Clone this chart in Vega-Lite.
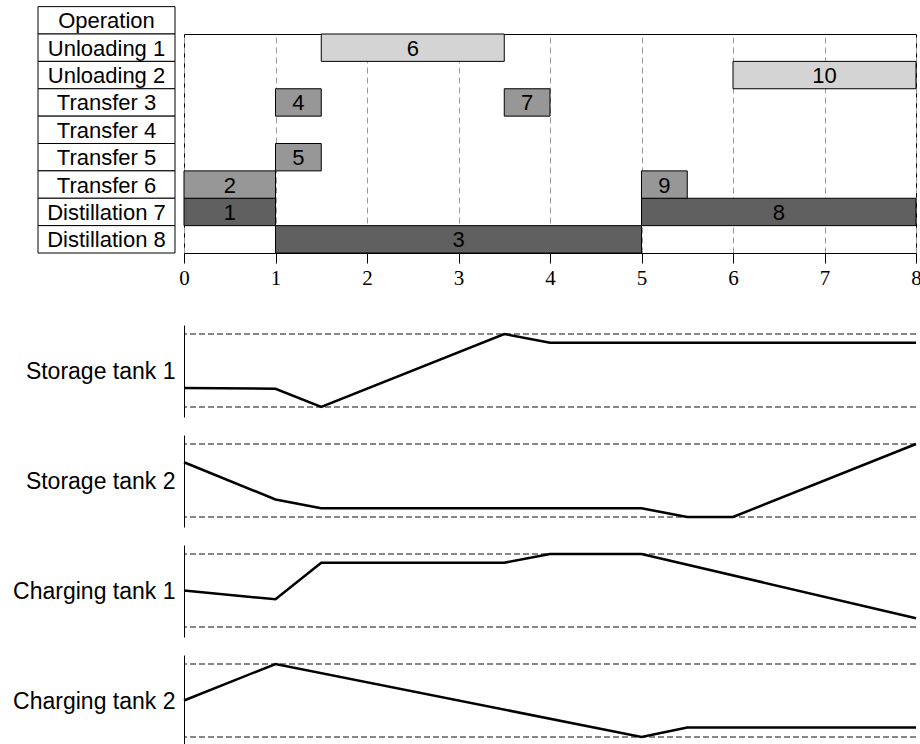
{
  "$schema": "https://vega.github.io/schema/vega-lite/v6.json",
  "padding": {"left": 12, "top": 5, "right": 0, "bottom": 0},
  "autosize": {"type": "pad"},
  "spacing": 18,
  "background": "white",
  "config": {
    "view": {"stroke": null},
    "font": "Liberation Sans",
    "text": {"font": "Liberation Sans", "color": "black"}
  },
  "datasets": {
    "ops": [
      {"op": "Operation"},
      {"op": "Unloading 1"},
      {"op": "Unloading 2"},
      {"op": "Transfer 3"},
      {"op": "Transfer 4"},
      {"op": "Transfer 5"},
      {"op": "Transfer 6"},
      {"op": "Distillation 7"},
      {"op": "Distillation 8"}
    ],
    "tasks": [
      {"id": "1", "op": "Distillation 7", "kind": "Distillation", "start": 0, "end": 1},
      {"id": "2", "op": "Transfer 6", "kind": "Transfer", "start": 0, "end": 1},
      {"id": "3", "op": "Distillation 8", "kind": "Distillation", "start": 1, "end": 5},
      {"id": "4", "op": "Transfer 3", "kind": "Transfer", "start": 1, "end": 1.5},
      {"id": "5", "op": "Transfer 5", "kind": "Transfer", "start": 1, "end": 1.5},
      {"id": "6", "op": "Unloading 1", "kind": "Unloading", "start": 1.5, "end": 3.5},
      {"id": "7", "op": "Transfer 3", "kind": "Transfer", "start": 3.5, "end": 4},
      {"id": "8", "op": "Distillation 7", "kind": "Distillation", "start": 5, "end": 8},
      {"id": "9", "op": "Transfer 6", "kind": "Transfer", "start": 5, "end": 5.5},
      {"id": "10", "op": "Unloading 2", "kind": "Unloading", "start": 6, "end": 8}
    ],
    "limits": [{"lim": 0}, {"lim": 1}],
    "levels": [
      {"tank": "Storage tank 1", "t": 0, "level": 0.26},
      {"tank": "Storage tank 1", "t": 1, "level": 0.25},
      {"tank": "Storage tank 1", "t": 1.5, "level": 0},
      {"tank": "Storage tank 1", "t": 3.5, "level": 1},
      {"tank": "Storage tank 1", "t": 4, "level": 0.88},
      {"tank": "Storage tank 1", "t": 8, "level": 0.88},
      {"tank": "Storage tank 2", "t": 0, "level": 0.75},
      {"tank": "Storage tank 2", "t": 1, "level": 0.24},
      {"tank": "Storage tank 2", "t": 1.5, "level": 0.12},
      {"tank": "Storage tank 2", "t": 5, "level": 0.12},
      {"tank": "Storage tank 2", "t": 5.5, "level": 0},
      {"tank": "Storage tank 2", "t": 6, "level": 0},
      {"tank": "Storage tank 2", "t": 8, "level": 1},
      {"tank": "Charging tank 1", "t": 0, "level": 0.5},
      {"tank": "Charging tank 1", "t": 1, "level": 0.38},
      {"tank": "Charging tank 1", "t": 1.5, "level": 0.88},
      {"tank": "Charging tank 1", "t": 3.5, "level": 0.88},
      {"tank": "Charging tank 1", "t": 4, "level": 1},
      {"tank": "Charging tank 1", "t": 5, "level": 1},
      {"tank": "Charging tank 1", "t": 8, "level": 0.12},
      {"tank": "Charging tank 2", "t": 0, "level": 0.5},
      {"tank": "Charging tank 2", "t": 1, "level": 1},
      {"tank": "Charging tank 2", "t": 5, "level": 0},
      {"tank": "Charging tank 2", "t": 5.5, "level": 0.13},
      {"tank": "Charging tank 2", "t": 8, "level": 0.13}
    ]
  },
  "vconcat": [
    {
      "width": 732,
      "height": 219,
      "view": {"stroke": "black", "strokeWidth": 1},
      "layer": [
        {
          "data": {"name": "ops"},
          "layer": [
            {
              "mark": {"type": "rect", "fill": "white", "stroke": "black", "strokeWidth": 1},
              "encoding": {
                "x": {"datum": 0, "type": "quantitative", "scale": {"domain": [0, 1], "range": [-146, -9]}, "axis": null},
                "x2": {"datum": 1},
                "y": {"field": "op", "type": "nominal", "sort": null, "scale": {"domain": ["Operation", "Unloading 1", "Unloading 2", "Transfer 3", "Transfer 4", "Transfer 5", "Transfer 6", "Distillation 7", "Distillation 8"], "range": [-27.375, 219], "paddingInner": 0, "paddingOuter": 0}, "axis": null}
              }
            },
            {
              "mark": {"type": "text", "fontSize": 22, "baseline": "middle", "align": "center", "dy": 1},
              "encoding": {
                "x": {"datum": 0.5, "type": "quantitative", "scale": {"domain": [0, 1], "range": [-146, -9]}, "axis": null},
                "y": {"field": "op", "type": "nominal", "sort": null, "scale": {"domain": ["Operation", "Unloading 1", "Unloading 2", "Transfer 3", "Transfer 4", "Transfer 5", "Transfer 6", "Distillation 7", "Distillation 8"], "range": [-27.375, 219], "paddingInner": 0, "paddingOuter": 0}, "axis": null},
                "text": {"field": "op", "type": "nominal"}
              }
            }
          ]
        },
        {
          "data": {"name": "tasks"},
          "layer": [
            {
              "mark": {"type": "bar", "stroke": "black", "strokeWidth": 1, "opacity": 1},
              "encoding": {
                "x": {"field": "start", "type": "quantitative", "scale": {"domain": [0, 8], "nice": false, "zero": false},
                  "axis": {"values": [0, 1, 2, 3, 4, 5, 6, 7, 8], "format": "d", "grid": true, "gridColor": "#9a9a9a", "gridDash": [6, 4], "gridWidth": 1,
                    "domain": true, "domainColor": "black", "domainWidth": 1, "ticks": true, "tickColor": "black", "tickSize": 10, "tickWidth": 1,
                    "labelFont": "Liberation Serif", "labelFontSize": 21, "labelColor": "black", "labelPadding": 4, "labelFlush": false, "labelOverlap": false,
                    "title": " ", "titleFontSize": 10, "titlePadding": 8}},
                "x2": {"field": "end"},
                "y": {"field": "op", "type": "nominal", "sort": null, "scale": {"domain": ["Unloading 1", "Unloading 2", "Transfer 3", "Transfer 4", "Transfer 5", "Transfer 6", "Distillation 7", "Distillation 8"], "paddingInner": 0, "paddingOuter": 0}, "axis": null},
                "color": {"field": "kind", "type": "nominal", "scale": {"domain": ["Unloading", "Transfer", "Distillation"], "range": ["#d4d4d4", "#979797", "#606060"]}, "legend": null}
              }
            },
            {
              "transform": [{"fold": ["start", "end"], "as": ["edge", "t"]}],
              "mark": {"type": "text", "fontSize": 22, "baseline": "middle", "align": "center", "dy": 1},
              "encoding": {
                "x": {"aggregate": "mean", "field": "t", "type": "quantitative", "title": " "},
                "y": {"field": "op", "type": "nominal", "sort": null},
                "text": {"field": "id", "type": "nominal"}
              }
            }
          ]
        }
      ],
      "resolve": {"scale": {"x": "independent", "y": "independent"}, "axis": {"x": "independent", "y": "independent"}}
    },
    {
      "width": 732,
      "height": 92,
      "layer": [
        {
          "data": {"name": "limits"},
          "mark": {"type": "rule", "strokeDash": [6, 3], "color": "#111111", "strokeWidth": 1.2},
          "encoding": {
            "y": {"field": "lim", "type": "quantitative", "scale": {"domain": [-0.137, 1.123], "nice": false, "zero": false},
              "axis": {"title": "Storage tank 1", "titleAngle": 0, "titleAlign": "right", "titleBaseline": "middle", "titleX": -9, "titleY": 46, "titleFontSize": 23, "titleFontWeight": "normal", "titleColor": "black", "titleFont": "Liberation Sans", "labels": false, "ticks": false, "grid": false, "domain": true, "domainColor": "black", "domainWidth": 1}}
          }
        },
        {
          "data": {"name": "levels"},
          "transform": [{"filter": "datum.tank === 'Storage tank 1'"}],
          "mark": {"type": "line", "color": "black", "strokeWidth": 2.5},
          "encoding": {
            "x": {"field": "t", "type": "quantitative", "scale": {"domain": [0, 8], "nice": false, "zero": false}, "axis": null},
            "y": {"field": "level", "type": "quantitative", "scale": {"domain": [-0.137, 1.123], "nice": false, "zero": false}, "title": "Storage tank 1"}
          }
        }
      ]
    },
    {
      "width": 732,
      "height": 92,
      "layer": [
        {
          "data": {"name": "limits"},
          "mark": {"type": "rule", "strokeDash": [6, 3], "color": "#111111", "strokeWidth": 1.2},
          "encoding": {
            "y": {"field": "lim", "type": "quantitative", "scale": {"domain": [-0.137, 1.123], "nice": false, "zero": false},
              "axis": {"title": "Storage tank 2", "titleAngle": 0, "titleAlign": "right", "titleBaseline": "middle", "titleX": -9, "titleY": 46, "titleFontSize": 23, "titleFontWeight": "normal", "titleColor": "black", "titleFont": "Liberation Sans", "labels": false, "ticks": false, "grid": false, "domain": true, "domainColor": "black", "domainWidth": 1}}
          }
        },
        {
          "data": {"name": "levels"},
          "transform": [{"filter": "datum.tank === 'Storage tank 2'"}],
          "mark": {"type": "line", "color": "black", "strokeWidth": 2.5},
          "encoding": {
            "x": {"field": "t", "type": "quantitative", "scale": {"domain": [0, 8], "nice": false, "zero": false}, "axis": null},
            "y": {"field": "level", "type": "quantitative", "scale": {"domain": [-0.137, 1.123], "nice": false, "zero": false}, "title": "Storage tank 2"}
          }
        }
      ]
    },
    {
      "width": 732,
      "height": 92,
      "layer": [
        {
          "data": {"name": "limits"},
          "mark": {"type": "rule", "strokeDash": [6, 3], "color": "#111111", "strokeWidth": 1.2},
          "encoding": {
            "y": {"field": "lim", "type": "quantitative", "scale": {"domain": [-0.137, 1.123], "nice": false, "zero": false},
              "axis": {"title": "Charging tank 1", "titleAngle": 0, "titleAlign": "right", "titleBaseline": "middle", "titleX": -9, "titleY": 46, "titleFontSize": 23, "titleFontWeight": "normal", "titleColor": "black", "titleFont": "Liberation Sans", "labels": false, "ticks": false, "grid": false, "domain": true, "domainColor": "black", "domainWidth": 1}}
          }
        },
        {
          "data": {"name": "levels"},
          "transform": [{"filter": "datum.tank === 'Charging tank 1'"}],
          "mark": {"type": "line", "color": "black", "strokeWidth": 2.5},
          "encoding": {
            "x": {"field": "t", "type": "quantitative", "scale": {"domain": [0, 8], "nice": false, "zero": false}, "axis": null},
            "y": {"field": "level", "type": "quantitative", "scale": {"domain": [-0.137, 1.123], "nice": false, "zero": false}, "title": "Charging tank 1"}
          }
        }
      ]
    },
    {
      "width": 732,
      "height": 92,
      "layer": [
        {
          "data": {"name": "limits"},
          "mark": {"type": "rule", "strokeDash": [6, 3], "color": "#111111", "strokeWidth": 1.2},
          "encoding": {
            "y": {"field": "lim", "type": "quantitative", "scale": {"domain": [-0.137, 1.123], "nice": false, "zero": false},
              "axis": {"title": "Charging tank 2", "titleAngle": 0, "titleAlign": "right", "titleBaseline": "middle", "titleX": -9, "titleY": 46, "titleFontSize": 23, "titleFontWeight": "normal", "titleColor": "black", "titleFont": "Liberation Sans", "labels": false, "ticks": false, "grid": false, "domain": true, "domainColor": "black", "domainWidth": 1}}
          }
        },
        {
          "data": {"name": "levels"},
          "transform": [{"filter": "datum.tank === 'Charging tank 2'"}],
          "mark": {"type": "line", "color": "black", "strokeWidth": 2.5},
          "encoding": {
            "x": {"field": "t", "type": "quantitative", "scale": {"domain": [0, 8], "nice": false, "zero": false}, "axis": null},
            "y": {"field": "level", "type": "quantitative", "scale": {"domain": [-0.137, 1.123], "nice": false, "zero": false}, "title": "Charging tank 2"}
          }
        }
      ]
    }
  ]
}
